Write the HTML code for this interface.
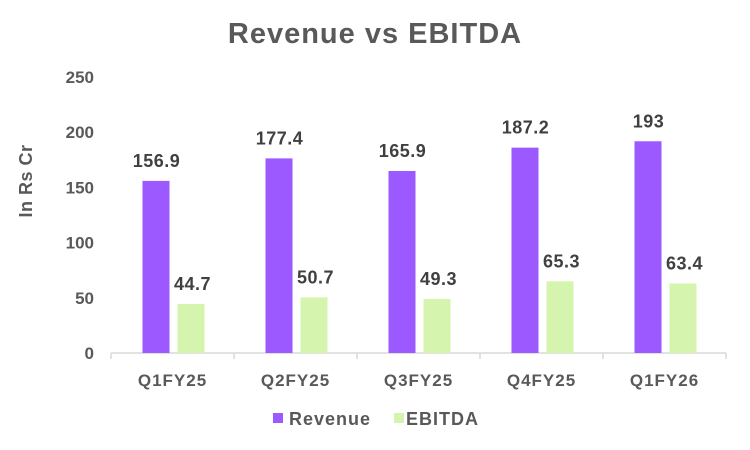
<!DOCTYPE html>
<html><head><meta charset="utf-8"><style>
body{margin:0;background:#fff}
svg{display:block;font-family:"Liberation Sans",sans-serif;font-weight:bold}
</style></head><body>
<svg id="c" width="750" height="450">
<text x="375" y="43" text-anchor="middle" font-size="29" letter-spacing="1" fill="#595959">Revenue vs EBITDA</text>
<text transform="translate(32,181) rotate(-90)" text-anchor="middle" font-size="18" letter-spacing="0.5" fill="#595959">In Rs Cr</text>
<g id="g"></g>
<g>
<rect x="273" y="413" width="10" height="10" fill="#9b59ff"/>
<text x="289" y="425" font-size="18" letter-spacing="1" fill="#595959">Revenue</text>
<rect x="394" y="413" width="10" height="10" fill="#d5f5ae"/>
<text x="406" y="425" font-size="18" letter-spacing="1" fill="#595959">EBITDA</text>
</g>
</svg>
<script>
const categories=["Q1FY25","Q2FY25","Q3FY25","Q4FY25","Q1FY26"];
const revenue=[156.9,177.4,165.9,187.2,193];
const ebitda=[44.7,50.7,49.3,65.3,63.4];
const yTicks=[0,50,100,150,200,250];
const NS="http://www.w3.org/2000/svg";
const g=document.getElementById('g');
const x0=111,band=123,y0=353,k=1.097;
const y=v=>y0-v*k;
function el(t,a,txt){const e=document.createElementNS(NS,t);for(const n in a)e.setAttribute(n,a[n]);if(txt!=null)e.textContent=txt;g.appendChild(e);return e;}
yTicks.forEach(t=>{const e=el('text',{x:94,y:y0-t*1.105+6,'text-anchor':'end','font-size':17,fill:'#595959'},t);

});
const ax=el('line',{x1:x0,x2:x0+band*categories.length,y1:y0,y2:y0,stroke:'#d9d9d9','stroke-width':1.5});


for(let i=0;i<=categories.length;i++){const t=el('line',{x1:x0+i*band,x2:x0+i*band,y1:y0,y2:y0+6,stroke:'#d9d9d9','stroke-width':1.5});

}
categories.forEach((c,i)=>{
const cx=x0+band*i+band/2;
const l=el('text',{x:cx,y:386,'text-anchor':'middle','font-size':17,'letter-spacing':1,fill:'#595959'},c);


const r=el('rect',{x:cx-30,y:y(revenue[i]),width:27,height:revenue[i]*k,fill:'#9b59ff'});


const e=el('rect',{x:cx+5,y:y(ebitda[i]),width:27,height:ebitda[i]*k,fill:'#d5f5ae'});


const rl=el('text',{x:cx-16,y:y(revenue[i])-14,'text-anchor':'middle','font-size':18,'letter-spacing':0.5,fill:'#404040'},revenue[i]);


const elb=el('text',{x:cx+20,y:y(ebitda[i])-14,'text-anchor':'middle','font-size':18,'letter-spacing':0.5,fill:'#404040'},ebitda[i]);


});
</script>
</body></html>
